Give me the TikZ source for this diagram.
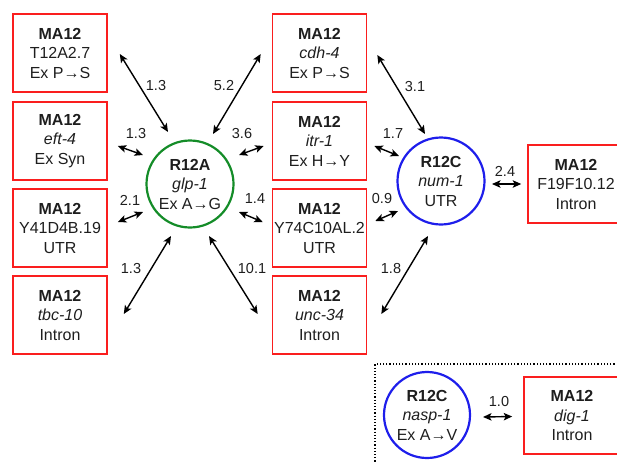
\documentclass[tikz,border=0pt]{standalone}
\usepackage{fontspec}
\setmainfont{Liberation Sans}
\usetikzlibrary{arrows.meta,calc}
\definecolor{boxred}{RGB}{250,30,30}
\definecolor{cgreen}{RGB}{20,140,40}
\definecolor{cblue}{RGB}{30,30,235}
\definecolor{txt}{RGB}{30,30,30}
\tikzset{
  mabox/.style={draw=boxred,line width=1.6pt,minimum width=94pt,minimum height=78pt,align=center,
    text=txt,font=\fontsize{16}{19.5}\selectfont,inner sep=0pt},
  rcirc/.style={circle,line width=2.2pt,minimum size=87pt,align=center,text=txt,
    font=\fontsize{16}{19.5}\selectfont,inner sep=0pt},
  conn/.style={{Stealth[length=8.5pt,width=7.5pt,inset=2pt]}-{Stealth[length=8.5pt,width=7.5pt,inset=2pt]},line width=1.4pt,black},
  lbl/.style={font=\fontsize{14.5}{16}\selectfont,text=txt,inner sep=0pt}
}
\begin{document}
\begin{tikzpicture}[x=1pt,y=-1pt]
\useasboundingbox (0,0) rectangle (617,461);
\clip (0,0) rectangle (617,461);
% left column
\node[mabox] (b1) at (60,53) {\textbf{MA12}\\T12A2.7\\Ex P→S};
\node[mabox] (b2) at (60,141) {\textbf{MA12}\\\textit{eft-4}\\Ex Syn};
\node[mabox] (b3) at (60,228) {\textbf{MA12}\\Y41D4B.19\\UTR};
\node[mabox] (b4) at (60,315) {\textbf{MA12}\\\textit{tbc-10}\\Intron};
% middle column
\node[mabox] (m1) at (319.5,53) {\textbf{MA12}\\\textit{cdh-4}\\Ex P→S};
\node[mabox] (m2) at (319.5,141) {\textbf{MA12}\\\textit{itr-1}\\Ex H→Y};
\node[mabox] (m3) at (319.5,228) {\textbf{MA12}\\Y74C10AL.2\\UTR};
\node[mabox] (m4) at (319.5,315) {\textbf{MA12}\\\textit{unc-34}\\Intron};
% circles
\node[rcirc,draw=cgreen] (A) at (190,184) {\textbf{R12A}\\\textit{glp-1}\\Ex A→G};
\node[rcirc,draw=cblue] (C) at (441,181) {\textbf{R12C}\\\textit{num-1}\\UTR};
\node[mabox,minimum width=96pt] (R) at (576,184) {\textbf{MA12}\\F19F10.12\\Intron};
% inset
\node[draw,dotted,line width=1.2pt,minimum width=260pt,minimum height=110pt,inner sep=0pt] (inset) at (505,419) {};
\node[rcirc,draw=cblue,minimum size=86pt] (N) at (427,415) {\textbf{R12C}\\\textit{nasp-1}\\Ex A→V};
\node[mabox,minimum width=96pt,minimum height=77pt] (D) at (572,415.5) {\textbf{MA12}\\\textit{dig-1}\\Intron};
% connectors
\draw[conn] ($(b1.east)+(12,1)$) -- ($(A)+(-22,-52)$);
\draw[conn] ($(m1.west)+(-11,1)$) -- ($(A)+(23,-50)$);
\draw[conn] ($(b2.east)+(10,5)$) -- ($(A)+(-47,-29)$);
\draw[conn] ($(m2.west)+(-8,5)$) -- ($(A)+(49,-29)$);
\draw[conn] ($(b3.east)+(10,-6)$) -- ($(A)+(-47,28)$);
\draw[conn] ($(m3.west)+(-9,-6)$) -- ($(A)+(49,28)$);
\draw[conn] ($(b4.east)+(16,-1)$) -- ($(A)+(-19,52)$);
\draw[conn] ($(m4.west)+(-14,-1)$) -- ($(A)+(19,52)$);
\draw[conn] ($(m1.east)+(10,2)$) -- ($(C)+(-16,-47)$);
\draw[conn] ($(m2.east)+(7,5)$) -- ($(C)+(-42,-25)$);
\draw[conn] ($(m3.east)+(8,-7)$) -- ($(C)+(-43,30)$);
\draw[conn] ($(m4.east)+(14,-1)$) -- ($(C)+(-13,55)$);
\draw[conn] ($(C)+(51,3)$) -- ($(R.west)+(-6,0)$);
\draw[conn] ($(N)+(56,2)$) -- ($(D.west)+(-11,1)$);
% labels
\node[lbl] (l1) at (156,86) {1.3};
\node[lbl] (l2) at (224,86) {5.2};
\node[lbl] (l3) at (136,134) {1.3};
\node[lbl] (l4) at (242,134) {3.6};
\node[lbl] (l5) at (130,200) {2.1};
\node[lbl] (l6) at (255,199) {1.4};
\node[lbl] (l7) at (131,269) {1.3};
\node[lbl] (l8) at (252,269) {10.1};
\node[lbl] (l9) at (415,87) {3.1};
\node[lbl] (l10) at (393,134) {1.7};
\node[lbl] (l11) at (505,171) {2.4};
\node[lbl] (l12) at (382,199) {0.9};
\node[lbl] (l13) at (391,269) {1.8};
\node[lbl] (l14) at (499,401) {1.0};
\end{tikzpicture}
\end{document}
